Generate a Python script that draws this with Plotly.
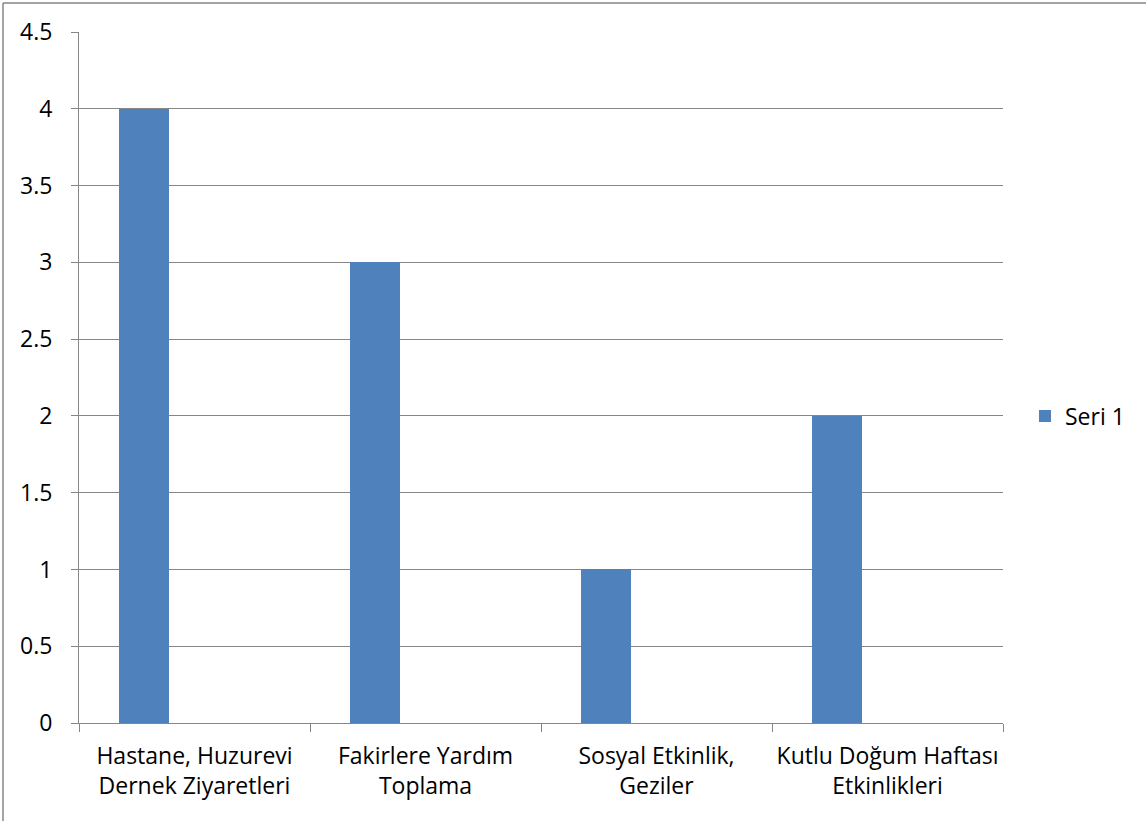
import plotly.graph_objects as go

categories = ["Hastane, Huzurevi<br>Dernek Ziyaretleri", "Fakirlere Yardım<br>Toplama",
              "Sosyal Etkinlik,<br>Geziler", "Kutlu Doğum Haftası<br>Etkinlikleri"]
values = [4, 3, 1, 2]
series_name = "Seri 1"
y_ticks = [0, 0.5, 1, 1.5, 2, 2.5, 3, 3.5, 4, 4.5]
y_ticklabels = ["0", "0.5", "1", "1.5", "2", "2.5", "3", "3.5", "4", "4.5"]

W, H = 1146, 821
L, R, T, B = 79, 1003, 32, 723
pw, ph = R - L, B - T

FONT = "Open Sans"
FS = 23
grid = "#868686"

fig = go.Figure()
fig.add_trace(go.Bar(
    x=list(range(len(values))), y=values, name=series_name,
    width=0.216, offset=-0.327,
    marker=dict(color="#4F81BD", line=dict(width=0)),
    showlegend=True,
))

fig.update_layout(
    width=W, height=H,
    margin=dict(l=L, r=W - R, t=T, b=H - B, autoexpand=False),
    paper_bgcolor="white", plot_bgcolor="white",
    font=dict(family=FONT, size=FS, color="black"),
    bargap=0,
    showlegend=True,
    legend=dict(x=(1025 - L) / pw, y=(B - 416) / ph, xanchor="left", yanchor="middle",
                font=dict(family=FONT, size=FS, color="black"),
                itemwidth=30, bgcolor="rgba(0,0,0,0)"),
    xaxis=dict(
        range=[-0.5, 3.5], tickmode="array",
        tickvals=list(range(len(categories))), ticktext=categories,
        ticks="", showgrid=False, zeroline=False,
        showline=True, linecolor=grid, linewidth=1,
        minor=dict(tickmode="array", tickvals=[-0.5, 0.5, 1.5, 2.5, 3.5],
                   ticks="outside", ticklen=8, tickcolor=grid, tickwidth=1, showgrid=False),
        tickfont=dict(family=FONT, size=FS, color="black"),
        ticklabelstandoff=12,
        fixedrange=True,
    ),
    yaxis=dict(
        range=[0, 4.5], tickmode="array", tickvals=y_ticks, ticktext=y_ticklabels,
        ticks="outside", ticklen=7, tickcolor=grid, tickwidth=1,
        showgrid=True, gridcolor=grid, gridwidth=1,
        zeroline=False, showline=True, linecolor=grid, linewidth=1,
        ticklabelstandoff=14,
        tickfont=dict(family=FONT, size=FS, color="black"),
        fixedrange=True,
    ),
)

# outer chart border (only top and left edges visible)
fig.add_shape(type="line", xref="paper", yref="paper",
              x0=(3 - L) / pw, x1=(W - L) / pw, y0=(B - 3) / ph, y1=(B - 3) / ph,
              line=dict(color=grid, width=1.5), layer="below")
fig.add_shape(type="line", xref="paper", yref="paper",
              x0=(3 - L) / pw, x1=(3 - L) / pw, y0=(B - 3) / ph, y1=(B - H) / ph,
              line=dict(color=grid, width=1.5), layer="below")

fig.write_html("out.html", config={"displayModeBar": False})

with open("out.html", encoding="utf-8") as f:
    html = f.read()
html = html.replace("<head>", "<head><style>html,body{margin:0;padding:0;overflow:hidden;}</style>", 1)
with open("out.html", "w", encoding="utf-8") as f:
    f.write(html)
